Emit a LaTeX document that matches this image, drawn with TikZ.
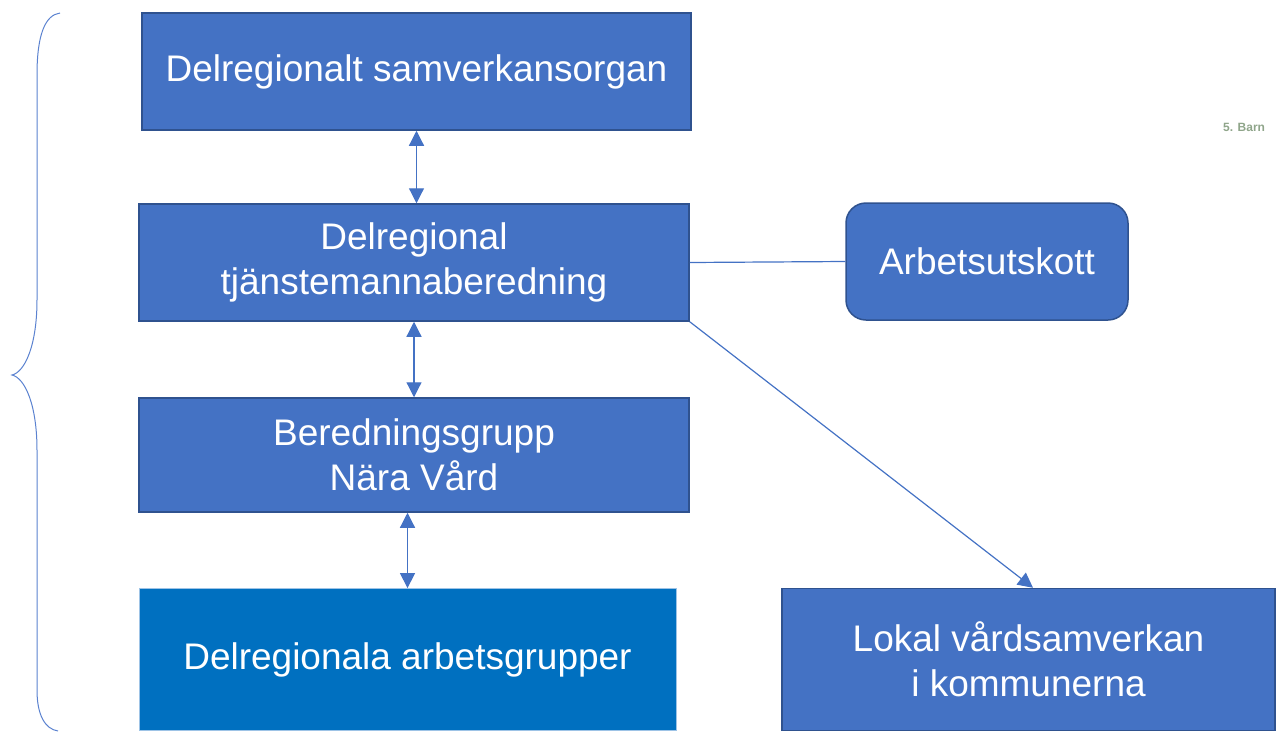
\documentclass[tikz,border=0pt]{standalone}
\usepackage{fontspec}
\setmainfont{Liberation Sans}
\usetikzlibrary{arrows.meta,positioning}
\definecolor{boxblue}{HTML}{4472C4}
\definecolor{boxedge}{HTML}{2F528F}
\definecolor{deepblue}{HTML}{0070C0}
\definecolor{lightedge}{HTML}{9DC3E6}
\definecolor{bracecol}{HTML}{5B82D0}
\definecolor{barncol}{HTML}{8FA58A}
\tikzset{
  x=1pt, y=-1pt,
  orgbox/.style={rectangle, fill=boxblue, draw=boxedge, line width=1.5pt,
    text=white, align=center, inner sep=0pt,
    font=\fontsize{37}{44.5}\selectfont},
  orgboxdeep/.style={orgbox, fill=deepblue, draw=lightedge, line width=0.8pt},
  roundbox/.style={orgbox, rounded corners=20pt},
  dblarrow/.style={draw=boxblue, line width=1.2pt,
    {Triangle[length=15pt,width=15pt]}-{Triangle[length=15pt,width=15pt]}},
  onearrow/.style={draw=boxblue, line width=1.2pt, -{Triangle[length=15pt,width=15pt]}},
  plainline/.style={draw=boxblue, line width=1.2pt},
  bracestyle/.style={draw=bracecol, line width=1pt}
}
\begin{document}
\begin{tikzpicture}
\useasboundingbox (0,0) rectangle (1276,731);
\node[orgbox, minimum width=549pt, minimum height=117pt] (b1) at (416.5,71.5) {Delregionalt samverkansorgan};
\node[orgbox, minimum width=550pt, minimum height=117pt] (b2) at (414,262.5) {Delregional\\tjänstemannaberedning};
\node[roundbox, minimum width=282pt, minimum height=117pt] (b3) at (987,261.5) {Arbetsutskott};
\node[orgbox, minimum width=550pt, minimum height=114pt] (b4) at (414,455) {Beredningsgrupp\\Nära Vård};
\node[orgboxdeep, minimum width=537pt, minimum height=142pt] (b5) at (407.5,659.5) {Delregionala arbetsgrupper};
\node[orgbox, minimum width=493pt, minimum height=142pt] (b6) at (1028.5,659.5) {Lokal vårdsamverkan\\i kommunerna};
\node[text=barncol, font=\fontsize{12}{14}\selectfont\bfseries, anchor=west, inner sep=0pt] (barn) at (1223,127) {5. Barn};

\draw[dblarrow] (b1.south) -- (b1.south |- b2.north);
\draw[dblarrow] (b2.south) -- (b4.north);
\draw[dblarrow] (b5.north |- b4.south) -- (b5.north);
\draw[plainline] (b2.east) -- (b3.west);
\draw[onearrow] (b2.south east) -- ([xshift=4.5pt]b6.north);

\draw[bracestyle] (60,13) .. controls (45,15) and (37,35) .. (37,75) -- (37,300)
  .. controls (37,345) and (25,372) .. (12,375)
  .. controls (25,378) and (37,405) .. (37,450) -- (37,690)
  .. controls (37,715) and (45,729) .. (58,731);
\end{tikzpicture}
\end{document}
